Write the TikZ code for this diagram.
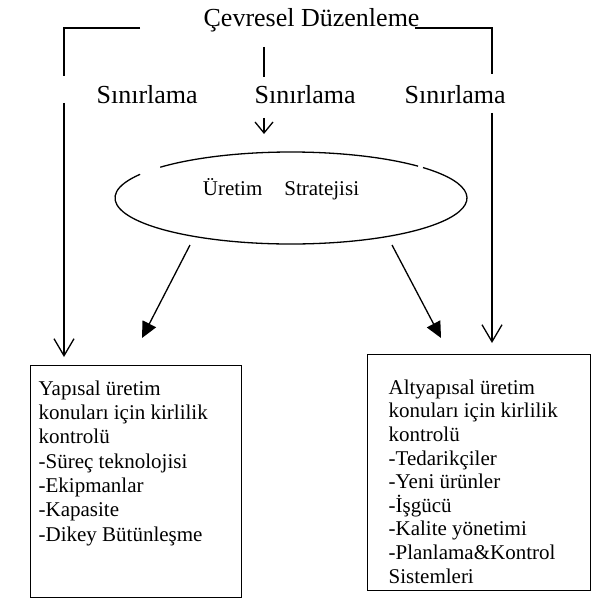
\documentclass[tikz,border=0pt]{standalone}
\usepackage{fontspec}
\setmainfont{Liberation Serif}
\usetikzlibrary{arrows.meta,calc}
\begin{document}
\begin{tikzpicture}[x=1pt,y=-1pt, line width=1.3pt,
  lbl/.style={font=\fontsize{26}{30}\selectfont, inner sep=0pt, anchor=base west},
  boxtext/.style={font=\fontsize{21}{24.3}\selectfont, inner sep=0pt, anchor=north west, align=left},
  openarr/.style={-{Straight Barb[length=17pt,width=20pt]}},
  smallarr/.style={-{Straight Barb[length=11pt,width=18pt]}},
  solidarr/.style={-{Triangle[length=16pt,width=15pt]}},
  panel/.style={draw, inner sep=0pt, anchor=north west}]
\useasboundingbox (0,0) rectangle (592,599);

% labels
\node[lbl] (title) at (203,27) {Çevresel Düzenleme};
\node[lbl] (s1) at (96,104) {Sınırlama};
\node[lbl] (s2) at (254,104) {Sınırlama};
\node[lbl] (s3) at (404,104) {Sınırlama};

% left bracket
\coordinate (lTop) at (140,28);
\coordinate (lCorner) at (64,28);
\coordinate (lEnd) at (64,76);
\coordinate (lStart) at (64,103);
\coordinate (lTip) at (64,357);
\draw (lTop) -- (lCorner) -- (lEnd);
\draw[openarr] (lStart) -- (lTip);

% right bracket
\coordinate (rTop) at (415,28);
\coordinate (rCorner) at (492,28);
\coordinate (rEnd) at (492,74);
\coordinate (rStart) at (492,113);
\coordinate (rTip) at (492,343);
\draw (rTop) -- (rCorner) -- (rEnd);
\draw[openarr] (rStart) -- (rTip);

% middle
\coordinate (mA) at (264,47);
\coordinate (mB) at (264,77);
\coordinate (mC) at (264,118);
\coordinate (mD) at (264,134);
\draw (mA) -- (mB);
\draw[smallarr] (mC) -- (mD);

% ellipse with gaps
\coordinate (ec) at (291,198);
\draw ($(ec)+(43.8:176pt and 46pt)$) arc[start angle=43.8, end angle=138, x radius=176pt, y radius=46pt];
\draw ($(ec)+(149:176pt and 46pt)$) arc[start angle=149, end angle=401.4, x radius=176pt, y radius=46pt];
\node[font=\fontsize{21}{25}\selectfont, inner sep=0pt, anchor=base] (strat) at (281,195) {Üretim\hspace{22pt}Stratejisi};

% arrows from ellipse
\coordinate (aL1) at (190,245);
\coordinate (aL2) at (142,338);
\coordinate (aR1) at (392,245);
\coordinate (aR2) at (441,338);
\draw[solidarr] (aL1) -- (aL2);
\draw[solidarr] (aR1) -- (aR2);

% boxes
\node[panel, minimum width=211pt, minimum height=232pt] (boxL) at (30,365) {};
\node[panel, minimum width=223pt, minimum height=236pt] (boxR) at (367,354) {};
\node[boxtext] (tL) at (38,380) {Yapısal üretim\\konuları için kirlilik\\kontrolü\\-Süreç teknolojisi\\-Ekipmanlar\\-Kapasite\\-Dikey Bütünleşme};
\node[boxtext, font=\fontsize{21}{23.6}\selectfont] (tR) at (388,379) {Altyapısal üretim\\konuları için kirlilik\\kontrolü\\-Tedarikçiler\\-Yeni ürünler\\-İşgücü\\-Kalite yönetimi\\-Planlama\&Kontrol\\Sistemleri};
\end{tikzpicture}
\end{document}
